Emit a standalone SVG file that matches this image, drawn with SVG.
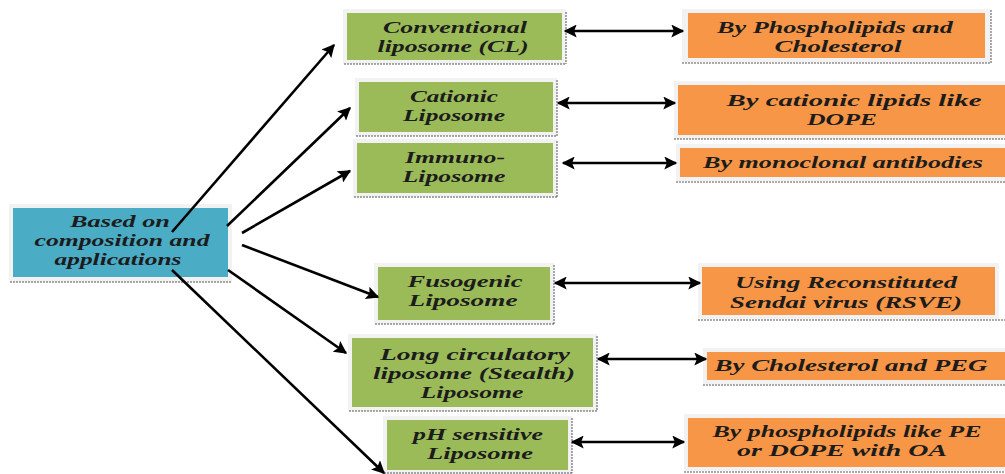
<svg xmlns="http://www.w3.org/2000/svg" width="1005" height="474" viewBox="0 0 1005 474">
<defs>
<style>
.t{font-family:"Liberation Serif","Times New Roman",serif;font-weight:bold;font-style:italic;font-size:17px;fill:#1c1c1c;text-anchor:middle}
.blue{fill:#4BACC6}
.green{fill:#9BBB59}
.orange{fill:#F79646}
.halo{fill:#f2f2f2}
.dot{stroke:#555;stroke-width:1;stroke-dasharray:2 1;fill:none}
.c{stroke:#000;stroke-width:2.6;fill:none}
</style>
<marker id="ah" viewBox="0 0 10 10" refX="9" refY="5" markerWidth="5.5" markerHeight="5" orient="auto-start-reverse" markerUnits="strokeWidth">
<path d="M0,0 L10,5 L0,10 L2,5 z" fill="#000"/>
</marker>
</defs>
<rect width="1005" height="474" fill="#fff"/>

<g id="n-root">
<rect class="halo" x="9" y="204" width="223" height="78"/>
<rect class="blue" x="13" y="208" width="215" height="69"/>
<line class="dot" x1="10" y1="282" x2="232" y2="282"/>
<text class="t" x="120" y="227" textLength="100" lengthAdjust="spacingAndGlyphs">Based on</text>
<text class="t" x="122" y="246" textLength="175" lengthAdjust="spacingAndGlyphs">composition and</text>
<text class="t" x="118" y="265" textLength="127" lengthAdjust="spacingAndGlyphs">applications</text>
</g>

<g id="n-cl">
<rect class="halo" x="343" y="9" width="223" height="55"/>
<rect class="green" x="347" y="13" width="215" height="47"/>
<line class="dot" x1="344" y1="64" x2="566" y2="64"/><line class="dot" x1="566" y1="12" x2="566" y2="64"/>
<text class="t" x="455" y="33" textLength="144" lengthAdjust="spacingAndGlyphs">Conventional</text>
<text class="t" x="453" y="52" textLength="151" lengthAdjust="spacingAndGlyphs">liposome (CL)</text>
</g>

<g id="n-cat">
<rect class="halo" x="355" y="78" width="202" height="58"/>
<rect class="green" x="359" y="82" width="194" height="50"/>
<line class="dot" x1="356" y1="136" x2="557" y2="136"/><line class="dot" x1="557" y1="80" x2="557" y2="136"/>
<text class="t" x="454" y="102" textLength="88" lengthAdjust="spacingAndGlyphs">Cationic</text>
<text class="t" x="454" y="121" textLength="102" lengthAdjust="spacingAndGlyphs">Liposome</text>
</g>

<g id="n-imm">
<rect class="halo" x="353" y="139" width="204" height="58"/>
<rect class="green" x="357" y="143" width="196" height="50"/>
<line class="dot" x1="354" y1="197" x2="557" y2="197"/><line class="dot" x1="557" y1="141" x2="557" y2="197"/>
<text class="t" x="455" y="163" textLength="100" lengthAdjust="spacingAndGlyphs">Immuno-</text>
<text class="t" x="454" y="182" textLength="103" lengthAdjust="spacingAndGlyphs">Liposome</text>
</g>

<g id="n-fus">
<rect class="halo" x="374" y="263" width="180" height="61"/>
<rect class="green" x="378" y="267" width="172" height="53"/>
<line class="dot" x1="375" y1="324" x2="554" y2="324"/><line class="dot" x1="554" y1="265" x2="554" y2="324"/>
<text class="t" x="465" y="287" textLength="115" lengthAdjust="spacingAndGlyphs">Fusogenic</text>
<text class="t" x="463" y="306" textLength="109" lengthAdjust="spacingAndGlyphs">Liposome</text>
</g>

<g id="n-long">
<rect class="halo" x="348" y="334" width="249" height="77"/>
<rect class="green" x="352" y="338" width="241" height="69"/>
<line class="dot" x1="349" y1="411" x2="597" y2="411"/><line class="dot" x1="597" y1="336" x2="597" y2="411"/>
<text class="t" x="475" y="360" textLength="190" lengthAdjust="spacingAndGlyphs">Long circulatory</text>
<text class="t" x="474" y="379" textLength="202" lengthAdjust="spacingAndGlyphs">liposome (Stealth)</text>
<text class="t" x="472" y="398" textLength="103" lengthAdjust="spacingAndGlyphs">Liposome</text>
</g>

<g id="n-ph">
<rect class="halo" x="383" y="416" width="189" height="58"/>
<rect class="green" x="387" y="420" width="181" height="50"/>
<line class="dot" x1="384" y1="473" x2="572" y2="473"/><line class="dot" x1="572" y1="418" x2="572" y2="473"/>
<text class="t" x="478" y="440" textLength="130" lengthAdjust="spacingAndGlyphs">pH sensitive</text>
<text class="t" x="480" y="459" textLength="106" lengthAdjust="spacingAndGlyphs">Liposome</text>
</g>

<g id="o-cl">
<rect class="halo" x="682" y="9" width="309" height="53"/>
<rect class="orange" x="688" y="13" width="297" height="45"/>
<line class="dot" x1="682" y1="63" x2="991" y2="63"/><line class="dot" x1="991" y1="10" x2="991" y2="63"/>
<text class="t" x="835" y="33" textLength="236" lengthAdjust="spacingAndGlyphs">By Phospholipids and</text>
<text class="t" x="838" y="52" textLength="127" lengthAdjust="spacingAndGlyphs">Cholesterol</text>
</g>

<g id="o-cat">
<rect class="halo" x="674" y="81" width="331" height="58"/>
<rect class="orange" x="678" y="85" width="327" height="50"/>
<line class="dot" x1="674" y1="139" x2="1005" y2="139"/>
<text class="t" x="854" y="106" textLength="255" lengthAdjust="spacingAndGlyphs">By cationic lipids like</text>
<text class="t" x="842" y="125" textLength="70" lengthAdjust="spacingAndGlyphs">DOPE</text>
</g>

<g id="o-imm">
<rect class="halo" x="676" y="144" width="329" height="37"/>
<rect class="orange" x="680" y="148" width="325" height="29"/>
<line class="dot" x1="676" y1="182" x2="1005" y2="182"/>
<text class="t" x="843" y="168" textLength="280" lengthAdjust="spacingAndGlyphs">By monoclonal antibodies</text>
</g>

<g id="o-fus">
<rect class="halo" x="698" y="263" width="301" height="56"/>
<rect class="orange" x="702" y="267" width="293" height="48"/>
<line class="dot" x1="698" y1="320" x2="1005" y2="320"/>
<text class="t" x="846" y="288" textLength="222" lengthAdjust="spacingAndGlyphs">Using Reconstituted</text>
<text class="t" x="846" y="308" textLength="232" lengthAdjust="spacingAndGlyphs">Sendai virus (RSVE)</text>
</g>

<g id="o-long">
<rect class="halo" x="703" y="348" width="302" height="36"/>
<rect class="orange" x="707" y="352" width="298" height="28"/>
<line class="dot" x1="703" y1="385" x2="1005" y2="385"/>
<text class="t" x="851" y="371" textLength="273" lengthAdjust="spacingAndGlyphs">By Cholesterol and PEG</text>
</g>

<g id="o-ph">
<rect class="halo" x="684" y="414" width="321" height="57"/>
<rect class="orange" x="688" y="418" width="317" height="49"/>
<line class="dot" x1="684" y1="472" x2="1005" y2="472"/>
<text class="t" x="847" y="437" textLength="269" lengthAdjust="spacingAndGlyphs">By phospholipids like PE</text>
<text class="t" x="842" y="456" textLength="210" lengthAdjust="spacingAndGlyphs">or DOPE with OA</text>
</g>

<g id="connectors">
<line class="c" x1="172" y1="232" x2="334" y2="45" marker-end="url(#ah)"/>
<line class="c" x1="227" y1="226" x2="350" y2="108" marker-end="url(#ah)" stroke-width="1.8"/>
<line class="c" x1="242" y1="233" x2="350" y2="171" marker-end="url(#ah)"/>
<line class="c" x1="242" y1="245" x2="378" y2="297" marker-end="url(#ah)"/>
<line class="c" x1="228" y1="270" x2="346" y2="353" marker-end="url(#ah)"/>
<line class="c" x1="172" y1="270" x2="384" y2="473" marker-end="url(#ah)"/>
<line class="c" x1="565" y1="31" x2="683" y2="31" marker-start="url(#ah)" marker-end="url(#ah)"/>
<line class="c" x1="558" y1="103" x2="675" y2="103" marker-start="url(#ah)" marker-end="url(#ah)"/>
<line class="c" x1="563" y1="163" x2="676" y2="163" marker-start="url(#ah)" marker-end="url(#ah)"/>
<line class="c" x1="555" y1="283" x2="700" y2="283" marker-start="url(#ah)" marker-end="url(#ah)"/>
<line class="c" x1="598" y1="359" x2="706" y2="359" marker-start="url(#ah)" marker-end="url(#ah)"/>
<line class="c" x1="572" y1="442" x2="684" y2="442" marker-start="url(#ah)" marker-end="url(#ah)"/>
</g>
</svg>
